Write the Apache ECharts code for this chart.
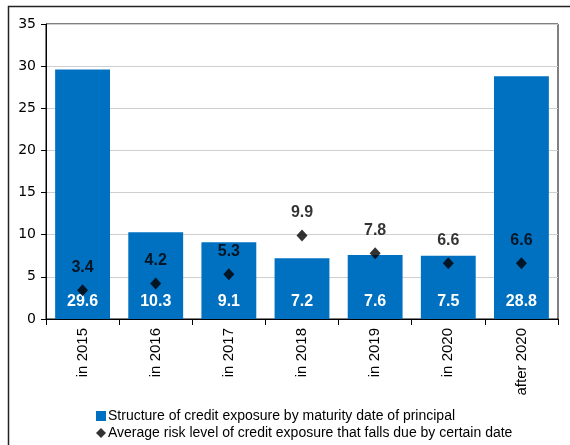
<!DOCTYPE html>
<html>
<head>
<meta charset="utf-8">
<script src="https://cdn.jsdelivr.net/npm/echarts@6/dist/echarts.min.js"></script>
<style>
  html, body { margin: 0; padding: 0; background: #fff; }
  #main { width: 570px; height: 445px; }
</style>
</head>
<body>
<div id="main"></div>
<script>
// categories and values
const categories = ['in 2015', 'in 2016', 'in 2017', 'in 2018', 'in 2019', 'in 2020', 'after 2020'];
const structure = [29.6, 10.3, 9.1, 7.2, 7.6, 7.5, 28.8];
const riskLevel = [3.4, 4.2, 5.3, 9.9, 7.8, 6.6, 6.6];

const barName = 'Structure of credit exposure by maturity date of principal';
const riskName = 'Average risk level of credit exposure that falls due by certain date';

const chart = echarts.init(document.getElementById('main'));

chart.setOption({
  animation: false,
  graphic: [
    {
      type: 'rect',
      shape: { x: 8.5, y: 6.5, width: 700, height: 600 },
      style: { fill: 'none', stroke: '#222', lineWidth: 1.5 }
    },
    {
      type: 'text',
      left: 0,
      top: -11,
      style: { text: 'in %', font: 'bold 14px "DejaVu Sans"', fill: '#000' }
    }
  ],
  grid: {
    left: 46, right: 12, top: 24, bottom: 126,
    show: true, borderColor: '#000', borderWidth: 1
  },
  legend: {
    orient: 'vertical',
    left: 91,
    top: 404,
    itemGap: 3,
    itemWidth: 10,
    itemHeight: 10,
    textStyle: { fontFamily: 'Liberation Sans', fontSize: 14, color: '#000', padding: [0, 0, 0, -3] },
    data: [
      { name: barName, icon: 'rect' },
      { name: riskName, icon: 'diamond' }
    ]
  },
  xAxis: {
    type: 'category',
    data: categories,
    axisLine: { lineStyle: { color: '#000', width: 1 } },
    axisTick: { show: true, length: 6, lineStyle: { color: '#000' } },
    axisLabel: {
      rotate: 90, margin: 9, color: '#000',
      fontFamily: 'Liberation Sans', fontSize: 15
    },
    splitLine: { show: false }
  },
  yAxis: {
    type: 'value',
    min: 0, max: 35, interval: 5,
    axisLine: { show: true, lineStyle: { color: '#000', width: 1 } },
    axisTick: { show: true, length: 5, lineStyle: { color: '#000' } },
    axisLabel: { color: '#000', fontFamily: 'DejaVu Sans', fontSize: 14, margin: 10 },
    splitLine: { lineStyle: { color: '#cfcfcf', width: 1 } }
  },
  series: [
    {
      name: barName,
      type: 'bar',
      data: structure,
      barCategoryGap: '25%',
      itemStyle: { color: '#0070C0' },
      label: {
        show: true, position: 'insideBottom', distance: 9,
        color: '#fff', fontWeight: 'bold', fontSize: 16, fontFamily: 'Liberation Sans'
      },
      z: 2
    },
    {
      name: riskName,
      type: 'scatter',
      data: riskLevel,
      symbol: 'diamond',
      symbolSize: [11, 12],
      itemStyle: { color: '#000' },
      label: {
        show: true, position: 'top', distance: 9,
        color: '#000', fontWeight: 'bold', fontSize: 16, fontFamily: 'Liberation Sans'
      },
      z: 3
    }
  ]
});
</script>
</body>
</html>
